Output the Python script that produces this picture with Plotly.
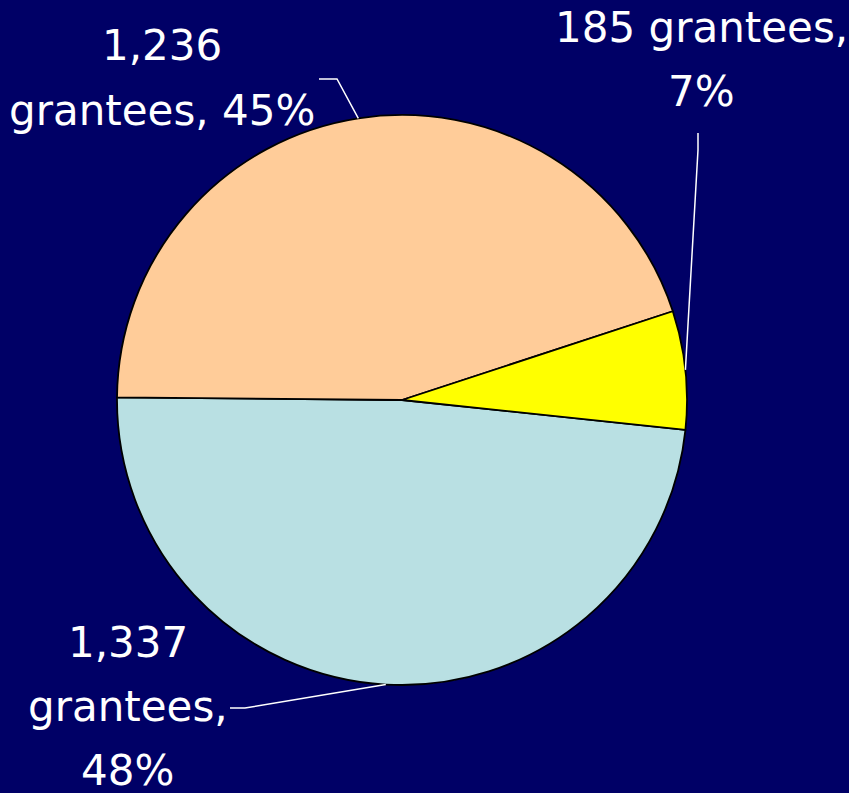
import math
import plotly.graph_objects as go

# ---- data ----
categories = ["Group A", "Group B", "Group C"]
values = [1337, 1236, 185]
colors = ["#B9E0E3", "#FFCC99", "#FFFF00"]

total = sum(values)
pcts = [round(100 * v / total) for v in values]

# label text lines (built from data)
label_lines = [
    [f"{values[0]:,}", "grantees,", f"{pcts[0]}%"],
    [f"{values[1]:,}", f"grantees, {pcts[1]}%"],
    [f"{values[2]:,} grantees,", f"{pcts[2]}%"],
]

# ---- layout geometry (pixels) ----
W, H = 849, 793
cx, cy, R = 402, 400, 285
rotation = 96
line_h = 64
label_centers = [(128, 642), (162, 46), (701, 28)]   # center of first line
elbows = [[(230, 708), (245, 708)], [(319, 79), (337, 79)], [(698, 133), (698, 150)]]

def px(x):
    return x / W

def py(y):
    return 1 - y / H

fig = go.Figure(go.Pie(
    labels=categories, values=values, sort=False, direction="clockwise",
    rotation=rotation, textinfo="none", showlegend=False,
    marker=dict(colors=colors, line=dict(color="black", width=1.8)),
    domain=dict(x=[px(cx - R), px(cx + R)], y=[py(cy + R), py(cy - R)]),
))

annotations = []
shapes = []
cum = 0
for i, v in enumerate(values):
    mid = math.radians(rotation + 360 * (cum + v / 2) / total)
    cum += v
    ex = cx + R * math.sin(mid)
    ey = cy - R * math.cos(mid)
    pts = elbows[i] + [(ex, ey)]
    path = "M " + " L ".join(f"{px(x):.5f},{py(y):.5f}" for x, y in pts)
    shapes.append(dict(type="path", xref="paper", yref="paper", path=path,
                       line=dict(color="white", width=1.5)))
    lx, ly = label_centers[i]
    for j, t in enumerate(label_lines[i]):
        annotations.append(dict(
            text=t, x=px(lx), y=py(ly + j * line_h), xref="paper", yref="paper",
            showarrow=False, xanchor="center", yanchor="middle",
            font=dict(family="DejaVu Sans", size=42, color="white")))

fig.update_layout(
    width=W, height=H, margin=dict(l=0, r=0, t=0, b=0),
    paper_bgcolor="#000066", plot_bgcolor="#000066",
    annotations=annotations, shapes=shapes,
)

fig.write_html("out.html", config={"displayModeBar": False})

with open("out.html", "r", encoding="utf-8") as f:
    html = f.read()
html = html.replace("<head>", "<head><style>html,body{margin:0;padding:0;background:#000066;overflow:hidden;}</style>", 1)
with open("out.html", "w", encoding="utf-8") as f:
    f.write(html)
